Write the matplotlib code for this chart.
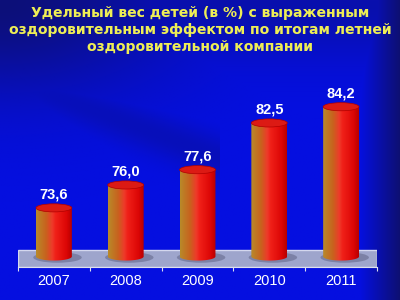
import numpy as np
import matplotlib
matplotlib.use("Agg")
import matplotlib.pyplot as plt
from matplotlib.patches import Ellipse, Rectangle, PathPatch
from matplotlib.path import Path
from matplotlib.colors import LinearSegmentedColormap

# data
years = ["2007", "2008", "2009", "2010", "2011"]
values = [73.6, 76.0, 77.6, 82.5, 84.2]
title_lines = ["Удельный вес детей (в %) с выраженным",
               "оздоровительным эффектом по итогам летней",
               "оздоровительной компании"]

plt.rcParams['font.family'] = ['Liberation Sans', 'DejaVu Sans']

BASE = 68.5          # where the cylinders stand
FLOOR_TOP = 69.2
YLIM = (67.4, 89.1)
BAR_W = 0.5
ELL_H = 0.85

fig = plt.figure(figsize=(4, 3), dpi=100)

# background: blue with darker corners
bg = fig.add_axes([0, 0, 1, 1])
bg.axis('off')
yy, xx = np.mgrid[0:1:300j, 0:1:400j]
img = np.zeros((300, 400, 3))
bright = np.array([5, 15, 225]) / 255
dark = np.array([15, 15, 95]) / 255
t = np.exp(-((xx * 1.1) ** 2 + (yy * 1.6) ** 2) / 0.25) * 0.8
t = np.maximum(t, 0.4 * np.exp(-(yy / 0.2) ** 2))
# darker diagonal swoosh from the upper left
t = np.maximum(t, 0.3 * np.exp(-((yy - 0.25 - 0.5 * xx) / 0.08) ** 2) * (xx < 0.55))
t = np.maximum(t, np.clip((xx - 0.9) / 0.1, 0, 1) * 0.85)
for c in range(3):
    img[..., c] = bright[c] * (1 - t) + dark[c] * t
bg.imshow(img, extent=[0, 1, 0, 1], aspect='auto', zorder=0)
bg.set_xlim(0, 1)
bg.set_ylim(0, 1)

for line, yl in zip(title_lines, [0.957, 0.9, 0.843]):
    fig.text(0.5, yl, line, ha='center', va='center', color='#EEEE55',
             fontsize=10.1, fontweight='bold', family='DejaVu Sans')

ax = fig.add_axes([0.045, 0.11, 0.8975, 0.69])
ax.patch.set_alpha(0)
x = np.arange(len(years))
ax.set_xlim(-0.5, len(years) - 0.5)
ax.set_ylim(*YLIM)

# floor
ax.add_patch(Rectangle((-0.5, YLIM[0]), len(years), FLOOR_TOP - YLIM[0],
                       facecolor='#9EA5CC', edgecolor='#D4D8EE', lw=1.0, zorder=1))

cyl = LinearSegmentedColormap.from_list('cyl', [
    (0.0, '#B88A2A'), (0.28, '#C8621E'), (0.45, '#EE3A2A'),
    (0.55, '#F02018'), (0.85, '#DC0606'), (1.0, '#B80000')])
grad = np.linspace(0, 1, 128).reshape(1, -1)

bars = ax.bar(x, np.array(values) - BASE, bottom=BASE, width=BAR_W,
              color='none', zorder=3)

for xi, v, b in zip(x, values, bars):
    x0 = b.get_x()
    x1 = x0 + b.get_width()
    # shadow on floor
    ax.add_patch(Ellipse((xi + 0.05, BASE - 0.1), BAR_W * 1.35, ELL_H * 1.3,
                         facecolor='#6E7396', edgecolor='none', alpha=0.7, zorder=2))
    # body outline: rect + rounded bottom
    th = np.linspace(np.pi, 2 * np.pi, 40)
    bottom_pts = np.column_stack([xi + BAR_W / 2 * np.cos(th),
                                  BASE + ELL_H / 2 * np.sin(th)])
    verts = np.vstack([[x0, v], bottom_pts, [x1, v], [x0, v]])
    body = PathPatch(Path(verts), facecolor='none', edgecolor='none',
                     transform=ax.transData)
    ax.add_patch(body)
    im = ax.imshow(grad, cmap=cyl, extent=[x0, x1, BASE - ELL_H, v],
                   aspect='auto', zorder=3)
    im.set_clip_path(body)
    ax.add_patch(Ellipse((xi, v), BAR_W, ELL_H, facecolor='#DC1A14',
                         edgecolor='#B00000', lw=0.5, zorder=4))
    ax.annotate(f"{v:.1f}".replace('.', ','), (xi, v), xytext=(0, 6.5),
                textcoords='offset points', ha='center', va='baseline',
                color='white', fontsize=10.5, fontweight='bold', zorder=5)

ax.set_xlim(-0.5, len(years) - 0.5)
ax.set_ylim(*YLIM)
ax.set_xticks(x)
ax.set_xticklabels(years)
ax.set_xticks(np.arange(len(years) + 1) - 0.5, minor=True)
ax.tick_params(axis='x', which='major', length=0, pad=5, labelcolor='white',
               labelsize=10.5)
ax.tick_params(axis='x', which='minor', length=3, color='#DDE0F0', width=0.8)
ax.set_yticks([])
for s in ['top', 'left', 'right']:
    ax.spines[s].set_visible(False)
ax.spines['bottom'].set_color('#DDE0F0')

fig.savefig("out.png", dpi=100)
